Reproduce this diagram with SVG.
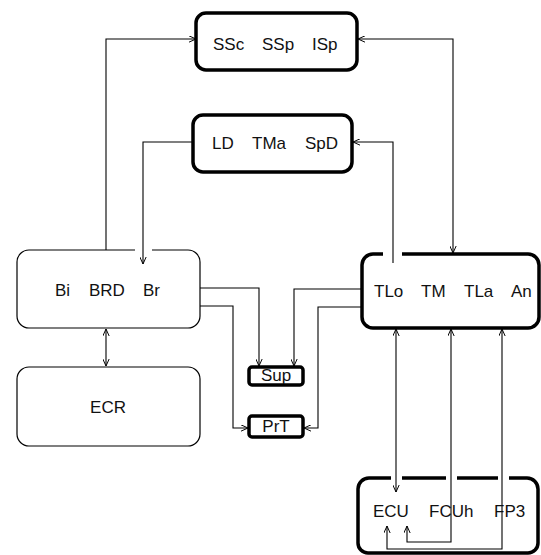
<svg xmlns="http://www.w3.org/2000/svg" width="541" height="555" viewBox="0 0 541 555">
<style>
text{font-family:"Liberation Sans",Arial,sans-serif;font-size:17px;fill:#111}
.thick{fill:none;stroke:#000;stroke-width:3.5;stroke-linejoin:round}
.thin{fill:none;stroke:#000;stroke-width:1.2}
.conn{fill:none;stroke:#000;stroke-width:1.1}
.mid{text-anchor:middle}
</style>
<defs>
<marker id="arr" viewBox="0 0 10 10" refX="10" refY="5" markerWidth="7" markerHeight="7" markerUnits="userSpaceOnUse" orient="auto-start-reverse">
<path d="M0,0.5 L10,5 L0,9.5" fill="none" stroke="#000" stroke-width="1.4"/>
</marker>
</defs>
<rect width="541" height="555" fill="#fff"/>
<g id="connectors">
<path class="conn" d="M106,250 V39 H196" marker-end="url(#arr)"/>
<path class="conn" d="M453,253 V39 H358" marker-start="url(#arr)" marker-end="url(#arr)"/>
<path class="conn" d="M193,142 H143 V264" marker-end="url(#arr)"/>
<path class="conn" d="M393,263 V142 H353" marker-end="url(#arr)"/>
<path class="conn" d="M106,329 V366" marker-start="url(#arr)" marker-end="url(#arr)"/>
<path class="conn" d="M200,288 H259 V366" marker-end="url(#arr)"/>
<path class="conn" d="M200,306 H233 V428 H248" marker-end="url(#arr)"/>
<path class="conn" d="M362,289 H294 V366" marker-end="url(#arr)"/>
<path class="conn" d="M362,307 H318 V428 H304" marker-end="url(#arr)"/>
<path class="conn" d="M396,492 V329" marker-start="url(#arr)" marker-end="url(#arr)"/>
<path class="conn" d="M407,526 V542 H451 V329" marker-start="url(#arr)" marker-end="url(#arr)"/>
<path class="conn" d="M387,526 V549 H502 V329" marker-start="url(#arr)" marker-end="url(#arr)"/>
</g>
<g id="node-SSc">
<rect class="thick" x="196" y="13" width="161" height="57" rx="10"/>
<text x="213" y="50">SSc</text><text x="262" y="50">SSp</text><text x="312" y="50">ISp</text>
</g>
<g id="node-LD">
<rect class="thick" x="193" y="115" width="159" height="57" rx="10"/>
<text x="212" y="149">LD</text><text x="252" y="149">TMa</text><text x="305" y="149">SpD</text>
</g>
<g id="node-Bi">
<path class="thin" d="M135,250 H29 A12,12 0 0 0 17,262 V316 A12,12 0 0 0 29,328 H188 A12,12 0 0 0 200,316 V262 A12,12 0 0 0 188,250 H152"/>
<text x="55" y="296">Bi</text><text x="89" y="296">BRD</text><text x="143" y="296">Br</text>
</g>
<g id="node-ECR">
<rect class="thin" x="17" y="367" width="183" height="79" rx="12"/>
<text class="mid" x="108" y="413">ECR</text>
</g>
<g id="node-TLo">
<path class="thick" d="M383,254 H373 A11,11 0 0 0 362,265 V317 A11,11 0 0 0 373,328 H528 A11,11 0 0 0 539,317 V265 A11,11 0 0 0 528,254 H402"/>
<text x="374" y="297">TLo</text><text x="421" y="297">TM</text><text x="464" y="297">TLa</text><text x="511" y="297">An</text>
</g>
<g id="node-Sup">
<rect class="thick" x="249" y="367" width="54" height="18" rx="3"/>
<text class="mid" x="276" y="381">Sup</text>
</g>
<g id="node-PrT">
<rect class="thick" x="249" y="416" width="54" height="21" rx="3"/>
<text class="mid" x="276" y="432">PrT</text>
</g>
<g id="node-ECU">
<path class="thick" d="M391,478 H369 A11,11 0 0 0 358,489 V543 A10,10 0 0 0 368,553 H528 A10,10 0 0 0 538,543 V489 A11,11 0 0 0 527,478 H509"/>
<path class="thick" d="M402,478 H446"/>
<path class="thick" d="M457,478 H498"/>
<text x="373" y="517">ECU</text><text x="429" y="517">FCUh</text><text x="494" y="517">FP3</text>
</g>
</svg>
